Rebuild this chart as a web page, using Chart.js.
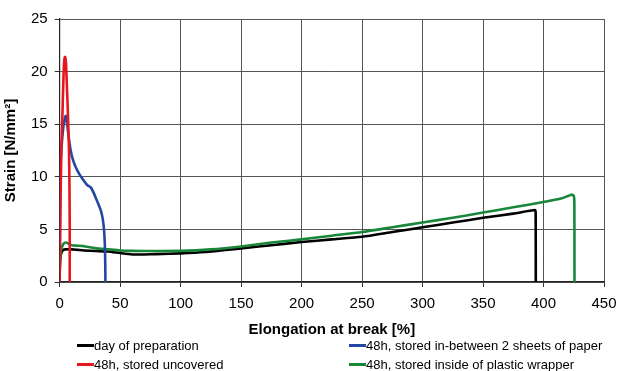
<!DOCTYPE html>
<html>
<head>
<meta charset="utf-8">
<script src="https://cdn.jsdelivr.net/npm/chart.js@4/dist/chart.umd.min.js"></script>
<style>
  html, body { margin: 0; padding: 0; background: #fff; }
  #wrap { position: relative; width: 628px; height: 371px; overflow: hidden; }
  canvas { position: absolute; left: 0; top: 0; }
  .leg { position: absolute; font-family: "Liberation Sans", Arial, sans-serif; font-size: 13px; color: #000; white-space: nowrap; line-height: 14px; }
  .sw { display: inline-block; width: 17px; height: 3px; vertical-align: middle; margin-right: 0px; position: relative; top: -1px; }
</style>
</head>
<body>
<div id="wrap">
  <canvas id="c" width="628" height="371"></canvas>
</div>
<script>
// ---- data ----
const seriesNames = [
  "day of preparation",
  "48h, stored uncovered",
  "48h, stored in-between 2 sheets of paper",
  "48h, stored inside of plastic wrapper"
];
const blackX = [0, 0.5, 1.5, 3, 5, 10, 15, 20, 30, 40, 50, 60, 70, 80, 100, 120, 150, 175, 200, 225, 250, 275, 300, 325, 350, 375, 393, 393.5, 393.6];
const blackY = [1.0, 2.3, 2.8, 3.05, 3.1, 3.1, 3.05, 3.0, 2.95, 2.9, 2.75, 2.62, 2.62, 2.65, 2.72, 2.85, 3.2, 3.5, 3.8, 4.05, 4.3, 4.75, 5.2, 5.65, 6.1, 6.5, 6.84, 6.6, 0];
const redX = [0, 0.3, 0.7, 1.5, 2.3, 3.0, 3.7, 4.4, 5.2, 6.0, 6.9, 7.7, 8.1, 8.3, 8.3];
const redY = [0, 4, 8, 13, 16, 19, 21, 21.4, 20.8, 18.5, 15.7, 12.5, 9, 5, 0];
const blueX = [0.1, 0.4, 0.8, 1.5, 2.2, 3.2, 4.2, 5.0, 5.8, 7, 9.1, 11, 13.3, 16.5, 20.1, 22.9, 25.7, 28.4, 29.8, 32, 34, 35.6, 36.7, 37.4, 37.7, 37.8];
const blueY = [3.5, 8, 11.5, 12.8, 13.8, 14.9, 15.5, 15.8, 15.4, 14.2, 12.5, 11.6, 10.9, 10.2, 9.6, 9.2, 9.0, 8.4, 8.0, 7.4, 6.8, 6.0, 4.9, 3.3, 1.5, 0];
const greenX = [0, 0.5, 1.5, 3, 5, 8, 10, 15, 20, 25, 30, 40, 50, 60, 75, 100, 125, 150, 175, 200, 225, 250, 275, 300, 325, 350, 375, 400, 415, 423, 425, 425.5, 425.6];
const greenY = [1.0, 2.4, 3.2, 3.6, 3.75, 3.6, 3.5, 3.45, 3.4, 3.3, 3.2, 3.1, 3.0, 2.96, 2.95, 2.96, 3.1, 3.38, 3.75, 4.05, 4.4, 4.75, 5.2, 5.66, 6.1, 6.6, 7.1, 7.6, 7.95, 8.3, 8.2, 7.5, 0];
const xTicks = [0, 50, 100, 150, 200, 250, 300, 350, 400, 450];
const yTicks = [0, 5, 10, 15, 20, 25];

const colors = ["#000000", "#e5161d", "#2347a2", "#18873a"];
const xs = [blackX, redX, blueX, greenX];
const ys = [blackY, redY, blueY, greenY];

const datasets = seriesNames.map((n, i) => ({
  label: n,
  data: xs[i].map((x, j) => ({ x: x, y: ys[i][j] })),
  borderColor: colors[i],
  backgroundColor: colors[i],
  borderWidth: 2.6,
  pointRadius: 0,
  showLine: true,
  tension: 0.2,
  fill: false,
  order: [3, 0, 1, 2][i]
}));

const FONT = "'Liberation Sans', Arial, sans-serif";
new Chart(document.getElementById('c'), {
  type: 'scatter',
  data: { datasets },
  options: {
    responsive: false,
    animation: false,
    devicePixelRatio: 1,
    layout: { padding: { left: 2, right: 24, top: 19, bottom: 32 } },
    plugins: { legend: { display: false }, tooltip: { enabled: false } },
    scales: {
      x: {
        type: 'linear', min: 0, max: 450,
        afterBuildTicks: s => { s.ticks = xTicks.map(v => ({ value: v })); },
        grid: { color: '#555', lineWidth: 1, tickLength: 5, drawTicks: true, tickColor: '#333' },
        border: { color: '#222', width: 1.2 },
        ticks: { color: '#000', font: { family: FONT, size: 15 }, padding: 8, maxRotation: 0 },
        title: { display: true, text: 'Elongation at break [%]', color: '#000', font: { family: FONT, size: 15, weight: 'bold' }, padding: { top: 0, bottom: 0 } }
      },
      y: {
        type: 'linear', min: 0, max: 25,
        afterBuildTicks: s => { s.ticks = yTicks.map(v => ({ value: v })); },
        grid: { color: '#555', lineWidth: 1, tickLength: 5, drawTicks: true, tickColor: '#333' },
        border: { color: '#222', width: 1.2 },
        ticks: { color: '#000', font: { family: FONT, size: 15 }, padding: 7 },
        title: { display: true, text: 'Strain [N/mm²]', color: '#000', font: { family: FONT, size: 15, weight: 'bold' }, padding: { top: 0, bottom: 4 } }
      }
    }
  }
});

// HTML legend (two columns)
const legPos = [[77, 339], [77, 358], [349, 339], [349, 358]];
const wrap = document.getElementById('wrap');
seriesNames.forEach((n, i) => {
  const d = document.createElement('div');
  d.className = 'leg';
  d.style.left = legPos[i][0] + 'px';
  d.style.top = legPos[i][1] + 'px';
  const sw = document.createElement('span');
  sw.className = 'sw';
  sw.style.background = colors[i];
  d.appendChild(sw);
  d.appendChild(document.createTextNode(n));
  wrap.appendChild(d);
});
</script>
</body>
</html>
